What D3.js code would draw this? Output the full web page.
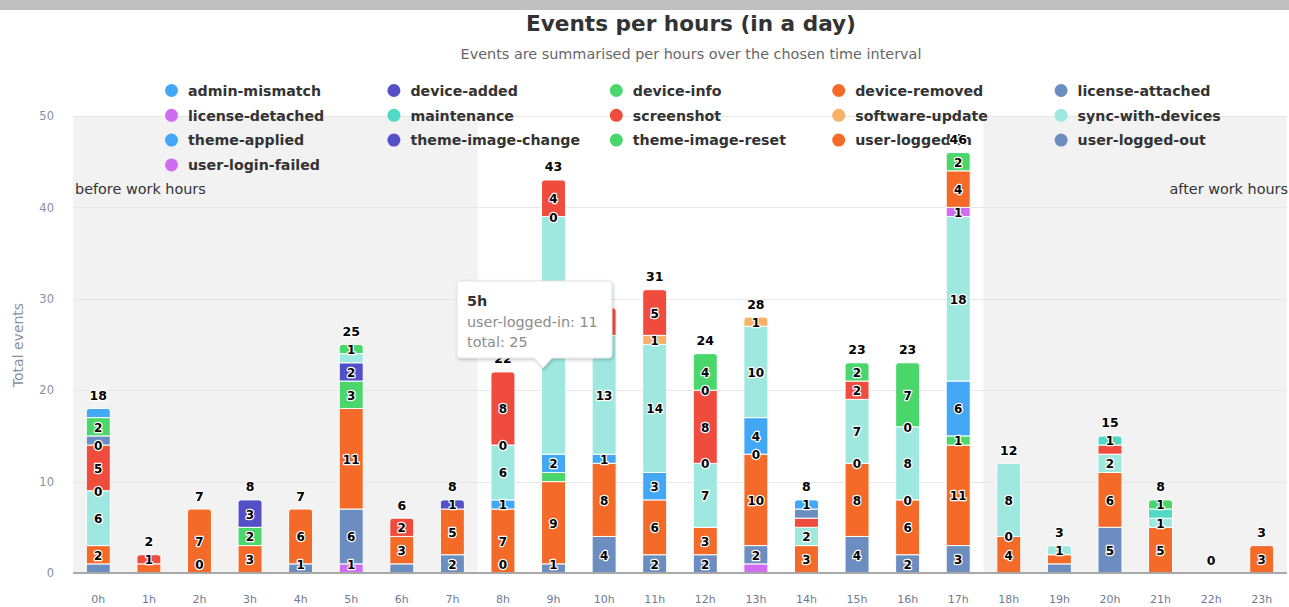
<!DOCTYPE html>
<html>
<head>
<meta charset="utf-8">
<script src="https://cdn.jsdelivr.net/npm/d3@7"></script>
<style>
  html, body { margin: 0; padding: 0; background: #fff; }
  svg { display: block; font-family: "DejaVu Sans", Verdana, sans-serif; }
</style>
</head>
<body>
<svg id="chart" width="1289" height="607"></svg>
<script>
// ---- data -------------------------------------------------------------
const _ = null; // no events of that kind in that hour
const hours = ["0h","1h","2h","3h","4h","5h","6h","7h","8h","9h","10h","11h",
               "12h","13h","14h","15h","16h","17h","18h","19h","20h","21h","22h","23h"];
const seriesNames = ["admin-mismatch","device-added","device-info","device-removed","license-attached",
  "license-detached","maintenance","screenshot","software-update","sync-with-devices",
  "theme-applied","theme-image-change","theme-image-reset","user-logged-in","user-logged-out",
  "user-login-failed"];
const palette = ["#42a8f5","#5350c7","#4bd66c","#f46a29","#6c8dbf",
                 "#d06cf2","#50d9c5","#f04c3e","#f7b168","#9ee8e0"];

//                      0h 1h 2h 3h 4h 5h 6h 7h 8h 9h 10h 11h 12h 13h 14h 15h 16h 17h 18h 19h 20h 21h 22h 23h
const adminMismatch   = [1, _, _, _, _, _, _, _, _, _, _,  _,  _,  _,  1,  _,  _,  _,  _,  _,  _,  _,  _,  _];
const deviceAdded     = [_, _, _, _, _, _, _, _, _, _, _,  _,  _,  _,  _,  _,  _,  _,  _,  _,  _,  _,  _,  _];
const deviceInfo      = [2, _, _, _, _, 1, _, _, _, _, _,  _,  4,  _,  _,  2,  7,  2,  _,  _,  _,  1,  _,  _];
const deviceRemoved   = [_, _, _, _, _, _, _, _, _, _, _,  _,  _,  _,  _,  _,  _,  4,  _,  _,  _,  _,  _,  _];
const licenseAttached = [1, _, _, _, _, _, _, _, _, _, _,  _,  _,  _,  1,  _,  _,  _,  _,  _,  _,  _,  _,  _];
const licenseDetached = [_, _, _, _, _, _, _, _, _, _, _,  _,  _,  _,  _,  _,  _,  1,  _,  _,  _,  _,  _,  _];
const maintenance     = [0, _, _, _, _, _, _, _, _, _, _,  _,  0,  _,  _,  _,  _,  _,  _,  _,  1,  1,  _,  _];
const screenshot      = [5, 1, _, _, _, _, 2, _, 8, 4, 3,  5,  8,  _,  1,  2,  _,  _,  _,  _,  1,  _,  _,  _];
const softwareUpdate  = [0, _, _, _, _, _, _, _, 0, 0, _,  1,  0,  1,  _,  _,  0,  _,  _,  _,  _,  _,  _,  _];
const syncWithDevices = [6, _, _, _, _, 1, _, _, 6,26,13, 14,  7, 10,  2,  7,  8, 18,  8,  1,  2,  1,  _,  _];
const themeApplied    = [_, _, _, _, _, _, _, _, 1, 2, 1,  3,  _,  4,  _,  _,  _,  6,  _,  _,  _,  _,  _,  _];
const themeImageChange= [_, _, _, 3, _, 2, _, 1, _, _, _,  _,  _,  _,  _,  _,  _,  _,  _,  _,  _,  _,  _,  _];
const themeImageReset = [_, _, _, 2, _, 3, _, _, _, 1, _,  _,  _,  0,  _,  0,  0,  1,  0,  _,  _,  _,  _,  _];
const userLoggedIn    = [2, 1, 7, 3, 6,11, 3, 5, 7, 9, 8,  6,  3, 10,  3,  8,  6, 11,  4,  1,  6,  5,  _,  3];
const userLoggedOut   = [1, _, 0, _, 1, 6, 1, 2, 0, 1, 4,  2,  2,  2,  _,  4,  2,  3,  _,  1,  5,  _,  _,  _];
const userLoginFailed = [_, _, _, _, _, 1, _, _, _, _, _,  _,  _,  1,  _,  _,  _,  _,  _,  _,  _,  _,  _,  _];

const seriesValues = [adminMismatch, deviceAdded, deviceInfo, deviceRemoved, licenseAttached,
  licenseDetached, maintenance, screenshot, softwareUpdate, syncWithDevices, themeApplied,
  themeImageChange, themeImageReset, userLoggedIn, userLoggedOut, userLoginFailed];

const yTicks = [0, 10, 20, 30, 40, 50];

// hover state shown in the tooltip
const tipHour = "5h", tipSeries = "user-logged-in";

// ---- layout -----------------------------------------------------------
const W = 1289, H = 607;
const plot = { left: 73, right: 1287, top: 116, bottom: 573 };
const svg = d3.select("#chart");

const x = d3.scaleBand().domain(hours).range([plot.left, plot.right]).padding(0);
const y = d3.scaleLinear().domain([0, 50]).range([plot.bottom, plot.top]);
const color = d3.scaleOrdinal().domain(seriesNames).range(palette);
const barW = 24;

// rows keyed by series name
const rows = hours.map((h, i) => {
  const r = { hour: h };
  seriesNames.forEach((s, k) => { r[s] = seriesValues[k][i]; });
  return r;
});
const totals = rows.map(r => d3.sum(seriesNames, s => r[s] || 0));

// first legend entry sits on top of the stack
const stackKeys = seriesNames.slice().reverse();
const stacked = d3.stack().keys(stackKeys).value((d, k) => d[k] == null ? 0 : d[k])(rows);

// ---- frame --------------------------------------------------------------
svg.append("rect").attr("x", 0).attr("y", 0).attr("width", W).attr("height", 10).attr("fill", "#bfbfbf");

// off-hours bands
const bands = [
  { from: "0h", to: "8h", label: "before work hours", anchor: "start" },
  { from: "18h", to: null, label: "after work hours", anchor: "end" }
];
bands.forEach(b => {
  const x0 = x(b.from), x1 = b.to ? x(b.to) : plot.right;
  svg.append("rect").attr("x", x0).attr("y", plot.top).attr("width", x1 - x0)
    .attr("height", plot.bottom - plot.top).attr("fill", "#f2f2f2");
  svg.append("text").attr("x", b.anchor === "start" ? x0 + 2 : x1 + 1).attr("y", 194)
    .attr("text-anchor", b.anchor).attr("font-size", 14.4).attr("fill", "#333")
    .text(b.label);
});

// grid
svg.append("g").selectAll("line").data(yTicks).join("line")
  .attr("x1", plot.left).attr("x2", plot.right)
  .attr("y1", d => Math.round(y(d)) + 0.5).attr("y2", d => Math.round(y(d)) + 0.5)
  .attr("stroke", "#e6e6e6").attr("stroke-width", 1);

// titles
svg.append("text").attr("x", 691).attr("y", 31).attr("text-anchor", "middle")
  .attr("font-size", 21.6).attr("font-weight", "bold").attr("fill", "#333")
  .text("Events per hours (in a day)");
svg.append("text").attr("x", 691).attr("y", 59).attr("text-anchor", "middle")
  .attr("font-size", 14.4).attr("fill", "#666")
  .text("Events are summarised per hours over the chosen time interval");

// legend
const legend = svg.append("g").selectAll("g").data(seriesNames).join("g")
  .attr("transform", (d, i) => `translate(${171.5 + (i % 5) * 222.4},${90.5 + Math.floor(i / 5) * 24.8})`);
legend.append("circle").attr("r", 6.5).attr("fill", d => color(d));
legend.append("text").attr("x", 16.5).attr("y", 5.2).attr("font-size", 14.2)
  .attr("font-weight", "bold").attr("fill", "#333").text(d => d);

// axes
const yAxis = svg.append("g").attr("transform", `translate(${plot.left},0)`)
  .call(d3.axisLeft(y).tickValues(yTicks).tickSize(0).tickPadding(19));
yAxis.select(".domain").remove();
yAxis.selectAll("text").attr("font-size", 11.5).attr("fill", "#8a90a0")
  .attr("font-family", "DejaVu Sans, sans-serif");

svg.append("text").attr("transform", "translate(23,345) rotate(-90)")
  .attr("text-anchor", "middle").attr("font-size", 14).attr("fill", "#8a90a0")
  .text("Total events");

const xAxis = svg.append("g").attr("transform", `translate(0,${plot.bottom})`)
  .call(d3.axisBottom(x).tickSize(0).tickPadding(22));
xAxis.select(".domain").remove();
xAxis.selectAll("text").attr("font-size", 11).attr("fill", "#6f7a92")
  .attr("font-family", "DejaVu Sans, sans-serif");

// ---- bars -----------------------------------------------------------------
const cx = h => x(h) + x.bandwidth() / 2;

// topmost non-empty segment per hour gets rounded corners
const topKey = {};
stacked.forEach(layer => layer.forEach((d, i) => {
  if ((rows[i][layer.key] || 0) > 0) topKey[hours[i]] = layer.key;
}));

function roundTopPath(x0, y0, w, h, r) {
  r = Math.min(r, h, w / 2);
  return `M${x0},${y0 + h}V${y0 + r}Q${x0},${y0} ${x0 + r},${y0}H${x0 + w - r}` +
         `Q${x0 + w},${y0} ${x0 + w},${y0 + r}V${y0 + h}Z`;
}

const barG = svg.append("g");
stacked.forEach(layer => {
  layer.forEach((d, i) => {
    const v = rows[i][layer.key];
    if (!v) return;
    const h = hours[i];
    const x0 = cx(h) - barW / 2, y0 = y(d[1]), ht = y(d[0]) - y(d[1]);
    if (topKey[h] === layer.key) {
      barG.append("path").attr("d", roundTopPath(x0, y0, barW, ht, 3))
        .attr("fill", color(layer.key)).attr("stroke", "#fff").attr("stroke-width", 1);
    } else {
      barG.append("rect").attr("x", x0).attr("y", y0).attr("width", barW).attr("height", ht)
        .attr("fill", color(layer.key)).attr("stroke", "#fff").attr("stroke-width", 1);
    }
  });
});

// baseline
svg.append("line").attr("x1", plot.left).attr("x2", plot.right)
  .attr("y1", plot.bottom).attr("y2", plot.bottom)
  .attr("stroke", "#a8a8a8").attr("stroke-width", 2);

// ---- data labels (overlapping ones are dropped) ---------------------------
const labelG = svg.append("g").attr("font-weight", "bold").attr("text-anchor", "middle");
function outlined(sel) {
  return sel.attr("fill", "#000").attr("stroke", "#fff").attr("stroke-width", 2.4)
    .attr("stroke-linejoin", "round").attr("paint-order", "stroke");
}
hours.forEach((h, i) => {
  const cands = [];
  stacked.forEach(layer => {
    const v = rows[i][layer.key];
    if (v == null) return;
    const d = layer[i];
    let cy = (y(d[0]) + y(d[1])) / 2 + 1;
    cy = Math.min(cy, plot.bottom - 8);
    cands.push({ v, cy, rank: seriesNames.indexOf(layer.key) });
  });
  cands.sort((a, b) => {
    if ((a.v === 0) !== (b.v === 0)) return a.v === 0 ? 1 : -1;
    return b.v - a.v || a.rank - b.rank;
  });
  const placed = [];
  cands.forEach(c => {
    if (placed.some(p => Math.abs(p.cy - c.cy) < 16)) return;
    placed.push(c);
    outlined(labelG.append("text").attr("x", cx(h)).attr("y", c.cy)
      .attr("dominant-baseline", "central").attr("font-size", 12).text(c.v));
  });
  // stack total
  outlined(labelG.append("text").attr("x", cx(h)).attr("y", y(totals[i]) - 13)
    .attr("dominant-baseline", "central").attr("font-size", 12.5).text(totals[i]));
});

// ---- tooltip ----------------------------------------------------------------
const defs = svg.append("defs");
const f = defs.append("filter").attr("id", "tipShadow").attr("x", "-20%").attr("y", "-20%")
  .attr("width", "140%").attr("height", "150%");
f.append("feDropShadow").attr("dx", 1).attr("dy", 1.5).attr("stdDeviation", 1.6)
  .attr("flood-color", "#000").attr("flood-opacity", 0.22);

const tip = { x: 457, y: 281, w: 155, h: 77, r: 3, tipX: 543, tipY: 368, half: 9 };
const tipPath = `M${tip.x + tip.r},${tip.y}H${tip.x + tip.w - tip.r}` +
  `Q${tip.x + tip.w},${tip.y} ${tip.x + tip.w},${tip.y + tip.r}V${tip.y + tip.h - tip.r}` +
  `Q${tip.x + tip.w},${tip.y + tip.h} ${tip.x + tip.w - tip.r},${tip.y + tip.h}` +
  `H${tip.tipX + tip.half}L${tip.tipX},${tip.tipY}L${tip.tipX - tip.half},${tip.y + tip.h}` +
  `H${tip.x + tip.r}Q${tip.x},${tip.y + tip.h} ${tip.x},${tip.y + tip.h - tip.r}` +
  `V${tip.y + tip.r}Q${tip.x},${tip.y} ${tip.x + tip.r},${tip.y}Z`;
const tipG = svg.append("g");
tipG.append("path").attr("d", tipPath).attr("fill", "#fff").attr("stroke", "#e2e2e2")
  .attr("stroke-width", 1).attr("filter", "url(#tipShadow)");
const ti = hours.indexOf(tipHour);
tipG.append("text").attr("x", tip.x + 10).attr("y", 306).attr("font-size", 14.4)
  .attr("font-weight", "bold").attr("fill", "#333").text(tipHour);
tipG.append("text").attr("x", tip.x + 10).attr("y", 327).attr("font-size", 14.4)
  .attr("fill", "#8c8c8c").text(`${tipSeries}: ${rows[ti][tipSeries]}`);
tipG.append("text").attr("x", tip.x + 10).attr("y", 347).attr("font-size", 14.4)
  .attr("fill", "#8c8c8c").text(`total: ${totals[ti]}`);
</script>
</body>
</html>
